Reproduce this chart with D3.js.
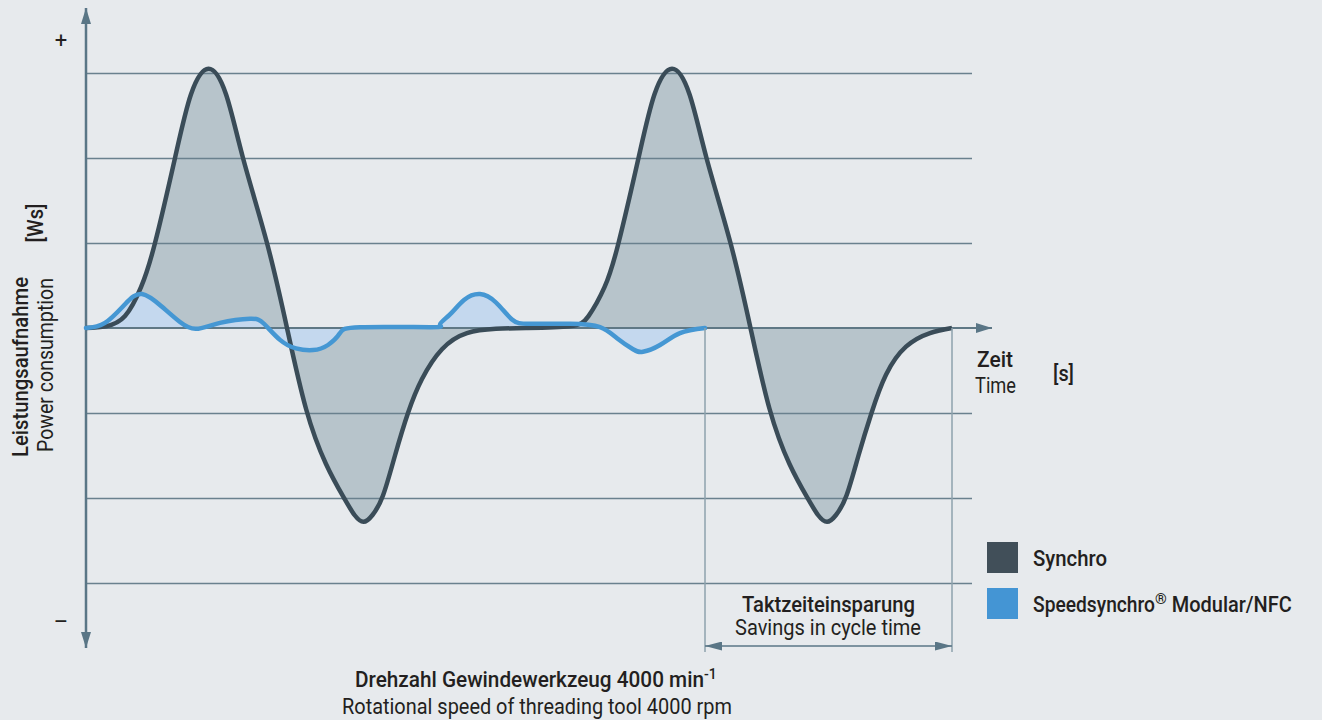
<!DOCTYPE html>
<html>
<head>
<meta charset="utf-8">
<script src="https://cdn.jsdelivr.net/npm/d3@7"></script>
<style>
  html, body { margin: 0; padding: 0; background: #e7eaed; }
  svg { display: block; font-family: Roboto, "Noto Sans", sans-serif; }
  .dark { fill: #231f20; }
</style>
</head>
<body>
<div id="chart"></div>
<script>
// gridline values (Ws, arbitrary units)
const gridValues = [-3, -2, -1, 1, 2, 3];

// Synchro power curve: [time, power]
const synchro = [
  [0, 0], [20, 0.02], [39, 0.14], [55, 0.48], [69, 1.0], [89, 2.0], [105, 2.75], [122.5, 3.05],
  [140, 2.75], [157, 2.0], [181, 1.0], [201, 0], [220, -0.95], [240, -1.6], [258, -2.0],
  [268.5, -2.2], [277.5, -2.28], [286.5, -2.2], [297, -1.97], [309, -1.5], [322, -1.0],
  [336, -0.6], [356, -0.25], [381, -0.06], [410, -0.01], [440, 0],
  [483.5, 0.02], [502.5, 0.14], [518.5, 0.48], [532.5, 1.0], [552.5, 2.0], [568.5, 2.75],
  [586, 3.05], [603.5, 2.75], [620.5, 2.0], [644.5, 1.0], [664.5, 0], [683.5, -0.95],
  [703.5, -1.6], [721.5, -2.0], [732, -2.2], [741, -2.28], [750, -2.2], [760.5, -1.97],
  [772.5, -1.5], [785.5, -1.0], [800, -0.55], [820, -0.22], [844, -0.06], [866, 0]
];

// Speedsynchro Modular/NFC power curve: [time, power]
const speedsynchro = [
  [0, 0], [19, 0.06], [39, 0.28], [56, 0.4], [76, 0.25], [94, 0.07], [110, -0.01],
  [134, 0.06], [164, 0.11], [178, 0.05], [194, -0.14], [210, -0.24], [227, -0.26],
  [242, -0.2], [254, -0.06], [274, 0.01], [344, 0.01], [354, 0.04], [364, 0.16], [378, 0.33],
  [394, 0.4], [410, 0.3], [426, 0.1], [444, 0.05], [484, 0.05], [514, 0.01], [531, -0.12],
  [547, -0.25], [557, -0.28], [574, -0.2], [594, -0.06], [619, 0]
];

// time span saved per cycle
const cycleSaving = [619, 866];

const legendNames = ["Synchro", "Speedsynchro"];
const legendColors = ["#414f59", "#4495d4"];

const W = 1322, H = 720;
const svg = d3.select("#chart").append("svg").attr("width", W).attr("height", H);
svg.append("rect").attr("width", W).attr("height", H).attr("fill", "#e7eaed");

const x = d3.scaleLinear().domain([0, 866]).range([86, 952]);
const y = d3.scaleLinear().domain([-3, 3]).range([583, 73]);

const curve = d3.curveNatural;
const area = d3.area().x(d => x(d[0])).y0(y(0)).y1(d => y(d[1])).curve(curve);
const line = d3.line().x(d => x(d[0])).y(d => y(d[1])).curve(curve);

svg.append("path").datum(synchro).attr("d", area).attr("fill", "#b7c4cb");
svg.append("path").datum(speedsynchro).attr("d", area).attr("fill", "#c4d8ee");

// gridlines
const grid = svg.append("g")
  .attr("transform", "translate(86,0)")
  .call(d3.axisRight(y).tickValues(gridValues).tickSize(886).tickFormat(""));
grid.select(".domain").remove();
grid.selectAll("line").attr("stroke", "#6a818e").attr("stroke-width", 1.3);

// arrow markers
const defs = svg.append("defs");
defs.append("marker").attr("id", "arr").attr("viewBox", "0 0 16 10")
  .attr("refX", 16).attr("refY", 5).attr("markerWidth", 16).attr("markerHeight", 10)
  .attr("markerUnits", "userSpaceOnUse").attr("orient", "auto-start-reverse")
  .append("path").attr("d", "M0,0L16,5L0,10Z").attr("fill", "#5a7686");
defs.append("marker").attr("id", "arrs").attr("viewBox", "0 0 17 9")
  .attr("refX", 17).attr("refY", 4.5).attr("markerWidth", 17).attr("markerHeight", 9)
  .attr("markerUnits", "userSpaceOnUse").attr("orient", "auto-start-reverse")
  .append("path").attr("d", "M0,0L17,4.5L0,9Z").attr("fill", "#5a7686");

// zero (time) axis
svg.append("line").attr("x1", 86).attr("x2", 992).attr("y1", y(0)).attr("y2", y(0))
  .attr("stroke", "#5f7885").attr("stroke-width", 2).attr("marker-end", "url(#arr)");

// power axis
svg.append("line").attr("x1", 86).attr("x2", 86).attr("y1", 648).attr("y2", 8)
  .attr("stroke", "#5a7686").attr("stroke-width", 2.5)
  .attr("marker-end", "url(#arr)").attr("marker-start", "url(#arr)");

// curves
svg.append("path").datum(synchro).attr("d", line).attr("fill", "none")
  .attr("stroke", "#3a4c58").attr("stroke-width", 4.5).attr("stroke-linejoin", "round");
svg.append("path").datum(speedsynchro).attr("d", line).attr("fill", "none")
  .attr("stroke", "#4597d3").attr("stroke-width", 4.5).attr("stroke-linecap", "round");

// cycle time savings markers
cycleSaving.forEach(t => {
  svg.append("line").attr("x1", x(t)).attr("x2", x(t)).attr("y1", y(0)).attr("y2", 652)
    .attr("stroke", "#8ea2ad").attr("stroke-width", 1.5);
});
svg.append("line").attr("x1", x(cycleSaving[0])).attr("x2", x(cycleSaving[1]))
  .attr("y1", 646).attr("y2", 646)
  .attr("stroke", "#5a7686").attr("stroke-width", 1.5)
  .attr("marker-start", "url(#arrs)").attr("marker-end", "url(#arrs)");

// text helper: main part squeezed to the measured width, optional superscript
function label(txt, px, py, len, weight, opts = {}) {
  const t = svg.append("text").attr("class", "dark")
    .attr("x", px).attr("y", py)
    .attr("font-size", opts.size || 22)
    .attr("font-weight", weight)
    .attr("text-anchor", opts.anchor || "start");
  if (opts.transform) t.attr("transform", opts.transform).attr("x", 0).attr("y", 0);
  const main = t.append("tspan").text(txt);
  if (len) main.attr("textLength", len).attr("lengthAdjust", "spacingAndGlyphs");
  if (opts.sup) {
    t.append("tspan").attr("dy", opts.supDy).attr("font-size", opts.supSize).text(opts.sup);
  }
  if (opts.rest) {
    t.append("tspan").attr("dy", -opts.supDy).attr("dx", 5).text(opts.rest)
      .attr("textLength", opts.restLen).attr("lengthAdjust", "spacingAndGlyphs");
  }
  return t;
}

label("+", 61, 48, null, 400, { anchor: "middle" });
label("–", 61, 629, null, 400, { anchor: "middle" });

label("Leistungsaufnahme", 0, 0, 180, 500, { anchor: "middle", transform: "translate(28,367) rotate(-90)" });
label("Power consumption", 0, 0, 174, 400, { anchor: "middle", transform: "translate(53,365) rotate(-90)" });
label("[Ws]", 0, 0, 39, 500, { anchor: "middle", transform: "translate(43,223) rotate(-90)" });

label("Zeit", 977, 367, 36, 500);
label("Time", 975, 393, 41, 400);
label("[s]", 1053, 381, 21, 500);

label("Taktzeiteinsparung", 828.5, 612, 173, 500, { anchor: "middle" });
label("Savings in cycle time", 828, 635, 186, 400, { anchor: "middle" });

label("Drehzahl Gewindewerkzeug 4000 min", 355, 687, 349, 500, { sup: "-1", supDy: -8, supSize: 14 });
label("Rotational speed of threading tool 4000 rpm", 537, 714, 390, 400, { anchor: "middle" });

// legend
const lg = svg.append("g");
legendNames.forEach((n, i) => {
  lg.append("rect").attr("x", 987).attr("y", 542 + i * 46).attr("width", 31).attr("height", 31)
    .attr("fill", legendColors[i]);
});
label(legendNames[0], 1033, 566, 74, 500);
label(legendNames[1], 1033, 612, 122, 500, { sup: "®", supDy: -8, supSize: 15, rest: "Modular/NFC", restLen: 120 });
</script>
</body>
</html>
